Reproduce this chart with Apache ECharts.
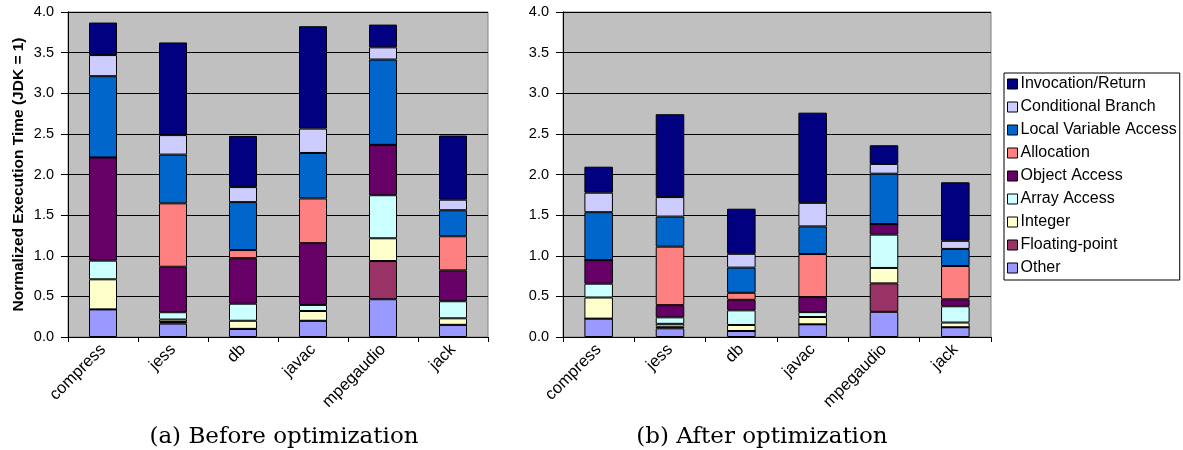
<!DOCTYPE html>
<html>
<head>
<meta charset="utf-8">
<script src="https://cdn.jsdelivr.net/npm/echarts@6/dist/echarts.min.js"></script>
<style>html,body{margin:0;padding:0;background:#fff}#c{width:1183px;height:450px}</style>
</head>
<body>
<div id="c"></div>
<script>
const categories = ['compress', 'jess', 'db', 'javac', 'mpegaudio', 'jack'];
const yTicks = [0, 0.5, 1.0, 1.5, 2.0, 2.5, 3.0, 3.5, 4.0];

// stacking order, bottom to top
const seriesNames = ['Other', 'Floating-point', 'Integer', 'Array Access', 'Object Access', 'Allocation', 'Local Variable Access', 'Conditional Branch', 'Invocation/Return'];
const seriesColors = ['#9999ff', '#993366', '#ffffcc', '#ccffff', '#660066', '#ff8080', '#0066cc', '#ccccff', '#000080'];

// (a) Before optimization
const beforeOther      = [0.34, 0.165, 0.10, 0.20, 0.465, 0.15];
const beforeFloating   = [0, 0.02, 0, 0, 0.47, 0];
const beforeInteger    = [0.37, 0.03, 0.10, 0.12, 0.28, 0.08];
const beforeArray      = [0.23, 0.09, 0.21, 0.075, 0.53, 0.21];
const beforeObject     = [1.27, 0.56, 0.56, 0.76, 0.62, 0.38];
const beforeAllocation = [0, 0.78, 0.10, 0.55, 0, 0.42];
const beforeLocal      = [1.0, 0.60, 0.59, 0.56, 1.05, 0.32];
const beforeCond       = [0.26, 0.24, 0.185, 0.30, 0.15, 0.13];
const beforeInvocation = [0.40, 1.14, 0.63, 1.26, 0.28, 0.79];

// (b) After optimization
const afterOther      = [0.226, 0.107, 0.074, 0.156, 0.31, 0.12];
const afterFloating   = [0, 0.02, 0, 0, 0.35, 0];
const afterInteger    = [0.26, 0.035, 0.074, 0.09, 0.19, 0.058];
const afterArray      = [0.17, 0.08, 0.18, 0.06, 0.41, 0.20];
const afterObject     = [0.29, 0.15, 0.13, 0.185, 0.13, 0.086];
const afterAllocation = [0, 0.72, 0.086, 0.53, 0, 0.41];
const afterLocal      = [0.59, 0.37, 0.31, 0.34, 0.62, 0.21];
const afterCond       = [0.24, 0.24, 0.17, 0.29, 0.12, 0.10];
const afterInvocation = [0.32, 1.02, 0.555, 1.11, 0.23, 0.72];

const beforeData = [beforeOther, beforeFloating, beforeInteger, beforeArray, beforeObject, beforeAllocation, beforeLocal, beforeCond, beforeInvocation];
const afterData = [afterOther, afterFloating, afterInteger, afterArray, afterObject, afterAllocation, afterLocal, afterCond, afterInvocation];

const legendOrder = seriesNames.slice().reverse();
const FONT = 'Liberation Sans, Arial, sans-serif';

function makeX(gridIndex) {
  return {
    type: 'category', gridIndex: gridIndex, data: categories, boundaryGap: true,
    axisLine: { show: true, lineStyle: { color: '#000', width: 1 } },
    axisTick: { show: true, alignWithLabel: false, length: 5, lineStyle: { color: '#000' } },
    axisLabel: { rotate: 45, color: '#000', fontSize: 16.5, fontFamily: FONT, margin: 10 },
    splitLine: { show: false }
  };
}
function makeY(gridIndex, name) {
  return {
    type: 'value', gridIndex: gridIndex, min: 0, max: 4, interval: 0.5,
    name: name, nameLocation: 'middle', nameGap: 41,
    nameTextStyle: { fontSize: 15.5, fontWeight: 'bold', color: '#000', fontFamily: FONT },
    axisLine: { show: true, lineStyle: { color: '#000', width: 1 } },
    axisTick: { show: true, length: 7, lineStyle: { color: '#000' } },
    axisLabel: { color: '#000', fontSize: 14.5, fontFamily: FONT, margin: 14,
      formatter: v => yTicks.indexOf(v) >= 0 ? v.toFixed(1) : '' },
    splitLine: { show: true, lineStyle: { color: '#000', width: 1 } }
  };
}

const series = [];
[beforeData, afterData].forEach((dataset, gi) => {
  dataset.forEach((arr, i) => {
    series.push({
      name: seriesNames[i], type: 'bar', stack: 'g' + gi,
      xAxisIndex: gi, yAxisIndex: gi, data: arr, barWidth: '40%',
      itemStyle: { color: seriesColors[i], borderColor: '#000', borderWidth: 1 },
      emphasis: { disabled: true }
    });
  });
});

const chart = echarts.init(document.getElementById('c'), null, { renderer: 'canvas' });
chart.setOption({
  animation: false,
  backgroundColor: '#fff',
  title: [
    { text: '(a) Before optimization', left: 279, top: 421, textAlign: 'center',
      textStyle: { fontFamily: 'DejaVu Serif, serif', fontSize: 23, fontWeight: 'normal', color: '#000' } },
    { text: '(b) After optimization', left: 757, top: 421, textAlign: 'center',
      textStyle: { fontFamily: 'DejaVu Serif, serif', fontSize: 23, fontWeight: 'normal', color: '#000' } }
  ],
  grid: [
    { left: 68, top: 12, width: 420, height: 325, show: true, backgroundColor: '#c0c0c0', borderColor: '#808080', borderWidth: 1 },
    { left: 563, top: 12, width: 428, height: 325, show: true, backgroundColor: '#c0c0c0', borderColor: '#808080', borderWidth: 1 }
  ],
  xAxis: [makeX(0), makeX(1)],
  yAxis: [makeY(0, 'Normalized Execution Time (JDK = 1)'), makeY(1, '')],
  legend: {
    orient: 'vertical', left: 1004, top: 73,
    data: legendOrder,
    itemWidth: 10, itemHeight: 10, itemGap: 7,
    icon: 'rect',
    itemStyle: { borderColor: '#000', borderWidth: 1 },
    textStyle: { fontSize: 16, lineHeight: 14, color: '#000', fontFamily: FONT, padding: [0, 0, 0, -2] },
    borderColor: '#000', borderWidth: 1, backgroundColor: '#fff',
    padding: [3, 3, 4, 3],
    selectedMode: false
  },
  series: series
});
</script>
</body>
</html>
